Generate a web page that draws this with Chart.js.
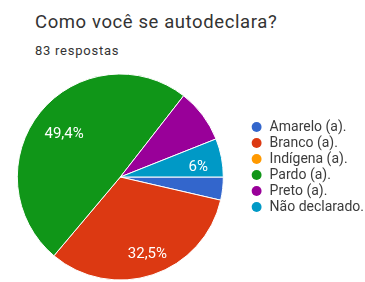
<!DOCTYPE html>
<html>
<head>
<meta charset="utf-8">
<script src="https://cdn.jsdelivr.net/npm/chart.js@4.4.0/dist/chart.umd.min.js"></script>
<style>
  html, body { margin: 0; padding: 0; width: 365px; height: 282px; overflow: hidden; background: #fff; }
  .title { position: absolute; left: 35px; top: 13px; font: 18.5px Roboto, sans-serif; line-height: 18px; letter-spacing: 0.6px; color: #333; white-space: nowrap; }
  .sub { position: absolute; left: 35px; top: 44px; font: 13px Roboto, sans-serif; line-height: 13px; letter-spacing: 0.75px; color: #333; white-space: nowrap; }
  .wrap { position: absolute; left: -8px; top: 70px; width: 382px; height: 212px; }
</style>
</head>
<body>
<div class="title">Como você se autodeclara?</div>
<div class="sub">83 respostas</div>
<div class="wrap"><canvas id="chart"></canvas></div>
<script>
const categories = ["Amarelo (a).", "Branco (a).", "Indígena (a).", "Pardo (a).", "Preto (a).", "Não declarado."];
const counts = [3, 27, 0, 41, 7, 5];
const sliceColors = ["#3366cc", "#dc3912", "#ff9900", "#109618", "#990099", "#0099c6"];
// which slices carry a percentage label in the original
const labelShown = [false, true, false, true, false, true];

const total = counts.reduce((a, b) => a + b, 0);

const sliceLabels = {
  id: "sliceLabels",
  afterDatasetsDraw(chart) {
    const ctx = chart.ctx;
    const meta = chart.getDatasetMeta(0);
    ctx.save();
    ctx.fillStyle = "#fff";
    ctx.font = "15px Roboto, sans-serif";
    ctx.textAlign = "center";
    ctx.textBaseline = "middle";
    meta.data.forEach((arc, i) => {
      if (!labelShown[i]) return;
      const pct = counts[i] / total * 100;
      const mid = (arc.startAngle + arc.endAngle) / 2;
      const r = arc.outerRadius * 0.74;
      const txt = (Math.round(pct * 10) / 10).toString().replace(".", ",") + "%";
      // small nudge, google puts the text a bit lower/right than the mid point
      ctx.fillText(txt, arc.x + Math.cos(mid) * r + 3, arc.y + Math.sin(mid) * r + 5);
    });
    ctx.restore();
  }
};

new Chart(document.getElementById("chart"), {
  type: "pie",
  data: {
    labels: categories,
    datasets: [{
      data: counts,
      backgroundColor: sliceColors,
      borderColor: "#fff",
      borderWidth: 1
    }]
  },
  options: {
    responsive: true,
    maintainAspectRatio: false,
    animation: false,
    rotation: 90,
    radius: 103,
    layout: { padding: { top: 5, bottom: 3, left: 0, right: 0 } },
    plugins: {
      tooltip: { enabled: false },
      legend: {
        position: "right",
        align: "start",
        title: { display: true, text: "", font: { size: 10, lineHeight: 1 }, padding: { top: 0, bottom: 33 } },
        labels: {
          usePointStyle: true,
          pointStyle: "circle",
          boxWidth: 12,
          boxHeight: 7,
          padding: 2,
          color: "#3c3c3c",
          font: { family: "Roboto, sans-serif", size: 14 },
          generateLabels: (chart) =>
            Chart.overrides.pie.plugins.legend.labels.generateLabels(chart).map(l => ({ ...l, lineWidth: 0 }))
        }
      }
    }
  },
  plugins: [sliceLabels]
});
</script>
</body>
</html>
